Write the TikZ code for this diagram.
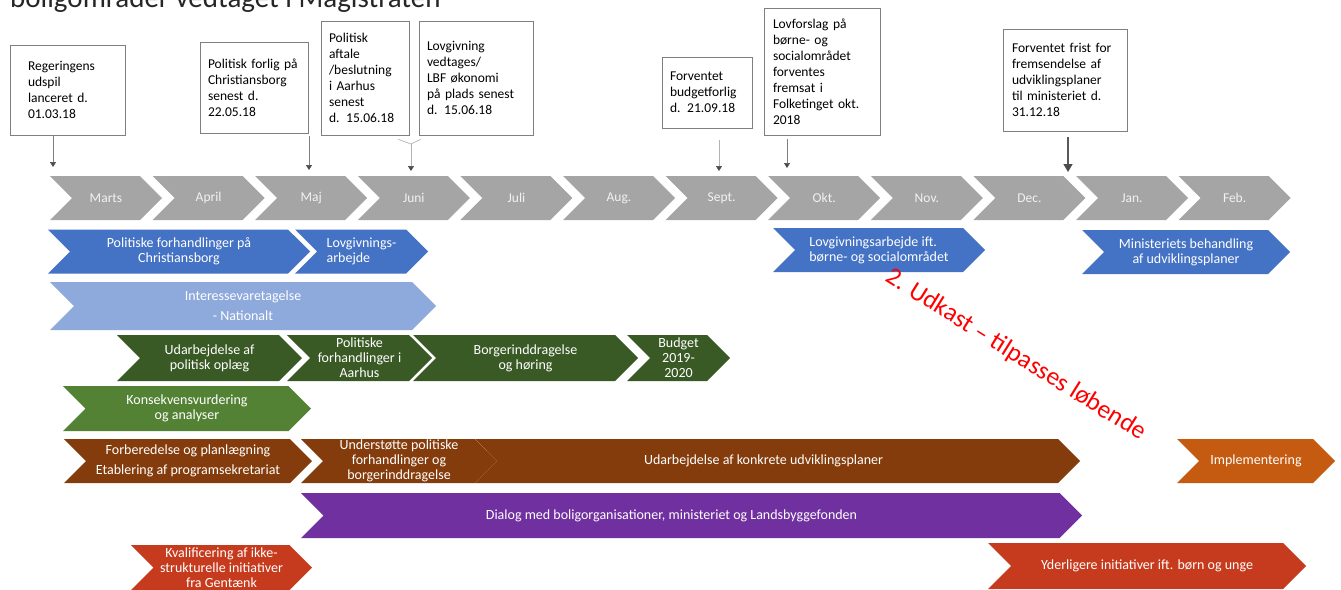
\documentclass[tikz,border=0pt]{standalone}
\usepackage{fontspec}
\setmainfont{Carlito}
\usepackage{xcolor}
\usepackage{tikz}
\usetikzlibrary{
  shapes.symbols,
  arrows.meta
}
\definecolor{monthgray}{HTML}{A5A5A5}
\definecolor{boxgray}{HTML}{7F7F7F}
\definecolor{cblue}{HTML}{4472C4}
\definecolor{clightblue}{HTML}{8EA9DB}
\definecolor{cdarkgreen}{HTML}{3A5A25}
\definecolor{cgreen}{HTML}{548235}
\definecolor{cbrown}{HTML}{843C0C}
\definecolor{corange}{HTML}{C55A11}
\definecolor{cpurple}{HTML}{7030A0}
\definecolor{cred}{HTML}{C63B1D}

\begin{document}
\begin{tikzpicture}[
      x=1pt, y=-1pt,
      chev/.style={signal, signal from=west, signal to=east, signal pointer angle=90, inner sep=0pt, text=white, align=center, font=\fontsize{14}{15}\selectfont},
      month/.style={chev, fill=monthgray, minimum width=112pt, minimum height=44pt, text=white!95!black, font=\fontsize{13.5}{15}\selectfont},
      callout/.style={draw=boxgray, fill=white, line width=0.7pt, align=left, inner xsep=8pt, inner ysep=0pt, font=\fontsize{13.5}{16}\selectfont},
      callarrow/.style={draw=boxgray, line width=0.7pt, -{Triangle[width=6pt, length=5pt, color=black!70]}}
    ]
      \useasboundingbox (0,0) rectangle (1341,589);
      \clip (0,0) rectangle (1341,589);

      % Title (cut off at the top)
      \node[anchor=base west, inner sep=0pt, font=\fontsize{29}{32}\selectfont, text=black!85] (title) at (10,7) {boligområder vedtaget i Magistraten};

      % Months
      \foreach \m [count=\i from 0] in {Marts,April,Maj,Juni,Juli,Aug.,Sept.,Okt.,Nov.,Dec.,Jan.,Feb.}
        \node[month] (m\i) at ({106+102.6*\i},198) {\m};

      % Milestones
      \node[callout, minimum width=115pt, minimum height=90pt, text width=79pt] (c1) at (67.5,90) {Regeringens\\udspil\\lanceret d.\\01.03.18};
      \node[callout, minimum width=108pt, minimum height=91pt, text width=92pt] (c2) at (254,87.5) {Politisk forlig på\\Christiansborg\\senest d.\\22.05.18};
      \node[callout, minimum width=88pt, minimum height=114pt, text width=72pt] (c3) at (365,78) {Politisk\\aftale\\/beslutning\\i Aarhus\\senest\\d. 15.06.18};
      \node[callout, minimum width=114pt, minimum height=114pt, text width=98pt] (c4) at (476,78) {Lovgivning\\vedtages/\\LBF økonomi\\på plads senest\\d. 15.06.18};
      \node[callout, minimum width=90pt, minimum height=71pt, text width=74pt] (c5) at (707,92.5) {Forventet\\budgetforlig\\d. 21.09.18};
      \node[callout, minimum width=116pt, minimum height=127pt, text width=98pt] (c6) at (822,71.5) {Lovforslag på\\børne- og\\socialområdet\\forventes\\fremsat i\\Folketinget okt.\\2018};
      \node[callout, minimum width=124pt, minimum height=102pt, text width=106pt] (c7) at (1065,80) {Forventet frist for\\fremsendelse af\\udviklingsplaner\\til ministeriet d.\\31.12.18};

      % Arrows
      \coordinate (t1) at (53,167);
      \coordinate (t2) at (309,170);
      \coordinate (j34) at (411,144);
      \coordinate (t34) at (411,171);
      \coordinate (t5) at (719,171);
      \coordinate (t6) at (787,168);
      \coordinate (t7) at (1068,172);
      \draw[callarrow] (c1.south -| t1) -- (t1);
      \draw[callarrow] ([yshift=-3pt]c2.south -| t2) -- (t2);
      \draw[boxgray!60, line width=0.7pt] ([xshift=-11pt, yshift=-4pt]c3.south east) -- (j34) -- ([xshift=2pt, yshift=-4pt]c4.south west);
      \draw[callarrow, draw=boxgray!60] (j34) -- (t34);
      \draw[callarrow, draw=boxgray!60] ([yshift=-12pt]c5.south -| t5) -- (t5);
      \draw[callarrow] ([yshift=-4pt]c6.south -| t6) -- (t6);
      \draw[callarrow, draw=black!65, line width=1.4pt, -{Triangle[width=9pt, length=8pt, color=black!70]}] ([yshift=-6pt]c7.south -| t7) -- (t7);

      % Activities
      \node[chev, fill=cblue, minimum width=262pt, minimum height=44pt] (pc) at (179,251.5) {Politiske forhandlinger på\\Christiansborg};
      \node[chev, fill=cblue, minimum width=133pt, minimum height=44pt, align=left] (lov) at (361.5,251.5) {Lovgivnings-\\arbejde};
      \node[chev, fill=cblue, minimum width=212pt, minimum height=44pt, align=left] (lovb) at (879,250) {Lovgivningsarbejde ift.\\børne- og socialområdet};
      \node[chev, fill=cblue, minimum width=208pt, minimum height=44pt] (mb) at (1186,252) {Ministeriets behandling\\af udviklingsplaner};

      \node[chev, fill=clightblue, minimum width=386pt, minimum height=48pt] (ia) at (243,306) {Interessevaretagelse\\[5pt]- Nationalt};

      \node[chev, fill=cdarkgreen, minimum width=185pt, minimum height=46pt] (g1) at (209.5,358) {Udarbejdelse af\\politisk oplæg};
      \node[chev, fill=cdarkgreen, minimum width=145pt, minimum height=46pt] (g2) at (359.5,358) {Politiske\\forhandlinger i\\Aarhus};
      \node[chev, fill=cdarkgreen, minimum width=225pt, minimum height=46pt] (g3) at (525.5,358) {Borgerinddragelse\\og høring};
      \node[chev, fill=cdarkgreen, minimum width=103pt, minimum height=46pt] (g4) at (678.5,358) {Budget\\2019-\\2020};

      \node[chev, fill=cgreen, minimum width=248pt, minimum height=45pt] (kv) at (187,408.5) {Konsekvensvurdering\\og analyser};

      \node[chev, fill=cbrown, minimum width=248pt, minimum height=44pt] (fp) at (188,461) {Forberedelse og planlægning\\[5pt]Etablering af programsekretariat};
      \node[chev, fill=cbrown, minimum width=196pt, minimum height=44pt] (us) at (399,461) {Understøtte politiske\\forhandlinger og\\borgerinddragelse};
      \node[chev, fill=cbrown, minimum width=605pt, minimum height=44pt] (uk) at (777.5,461) {\hspace*{-28pt}Udarbejdelse af konkrete udviklingsplaner};
      \node[chev, fill=corange, minimum width=158pt, minimum height=44pt] (im) at (1256,461) {Implementering};

      \node[chev, fill=cpurple, minimum width=781pt, minimum height=45pt] (dl) at (691.5,515.5) {\hspace*{-40pt}Dialog med boligorganisationer, ministeriet og Landsbyggefonden};

      \node[chev, fill=cred, minimum width=181pt, minimum height=45pt] (kf) at (221.5,567.5) {Kvalificering af ikke-\\strukturelle initiativer\\fra Gentænk};
      \node[chev, fill=cred, minimum width=318pt, minimum height=46pt] (yi) at (1147,566) {Yderligere initiativer ift. børn og unge};

      % Draft stamp
      \node[rotate=-32, text=red, font=\fontsize{25.5}{28}\selectfont] (wm) at (1016,355) {2. Udkast – tilpasses løbende};
    \end{tikzpicture}
\end{document}
